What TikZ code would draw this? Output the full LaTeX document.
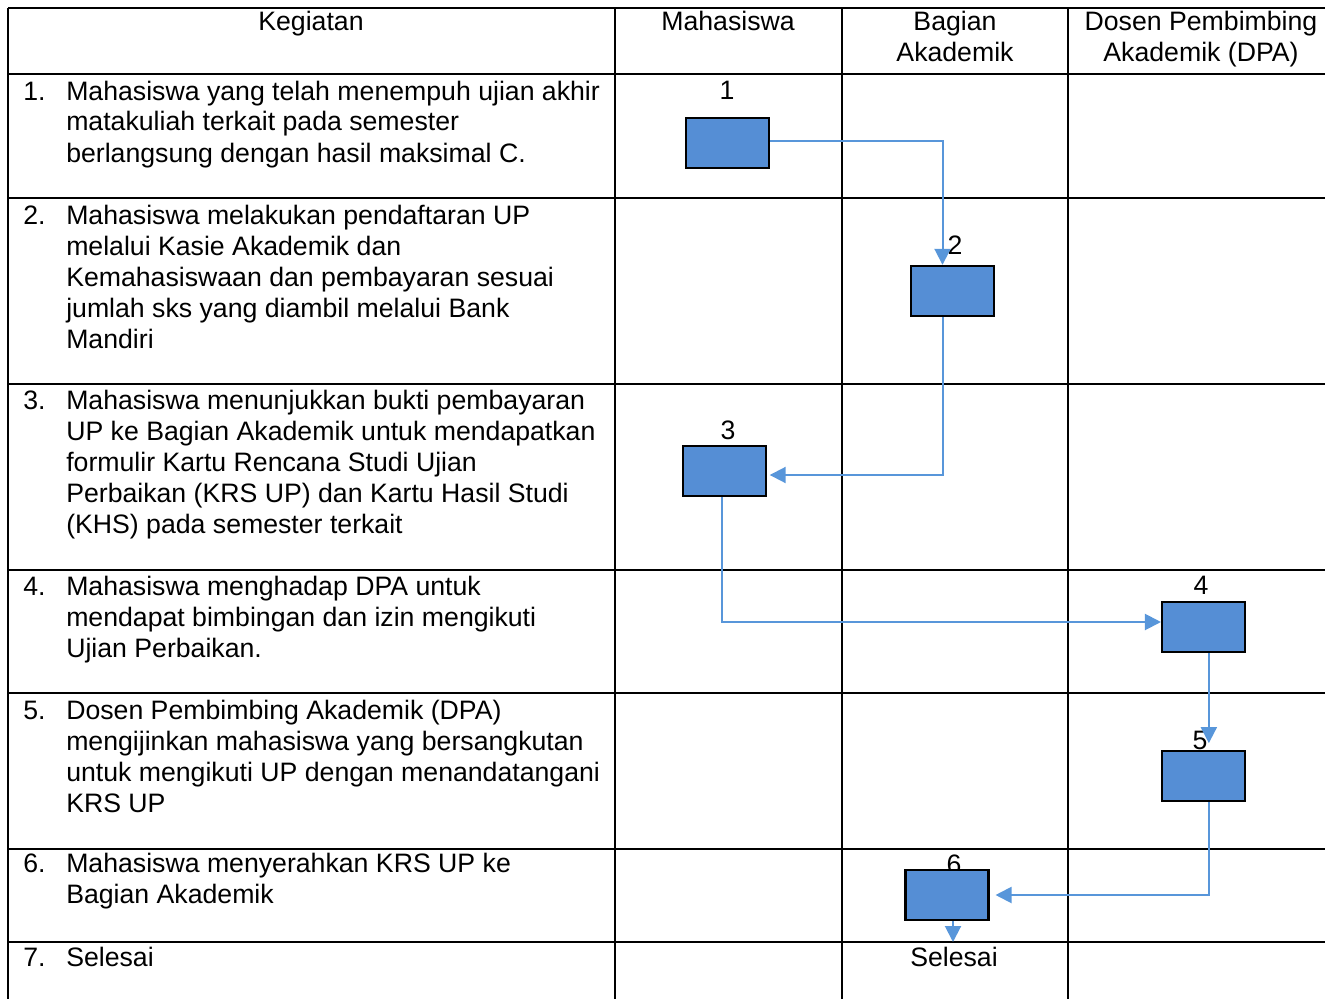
\documentclass[tikz,border=0pt]{standalone}
\usepackage{fontspec}
\setmainfont{Liberation Sans}
\usetikzlibrary{arrows.meta,calc}
\definecolor{boxblue}{RGB}{85,142,213}
\definecolor{flowblue}{RGB}{88,150,218}
\newcommand\kegiatan[3]{%
  \node[txt,anchor=base west] (no#1) at (23,#2) {#1.};
  \foreach \kline [count=\k] in {#3}
    \node[txt,anchor=base west] (keg#1-\k) at (66,{#2+31*(\k-1)}) {\kline};
}

\begin{document}
\begin{tikzpicture}[x=0.75pt,y=-0.75pt]
\tikzset{txt/.style={inner sep=0,font=\fontsize{20}{23.25}\selectfont},
  grid/.style={line width=1.9pt,draw=black},
  act/.style={draw=black,line width=1.8pt,fill=boxblue,inner sep=0,
    minimum width=62pt,minimum height=37.5pt},
  flow/.style={draw=flowblue,line width=1.5pt,-{Triangle[length=12pt,width=12pt]}}}
\useasboundingbox (0,0) rectangle (1325,999);

% table
\draw[grid] (8,8) -- (8,999);
\foreach \y in {8,74,198,384,570,693,849,942} \draw[grid] (8,\y) -- (1325,\y);
\foreach \x in {615,842,1068} \draw[grid] (\x,8) -- (\x,999);

% header
\node[txt,anchor=base] (hkeg) at (311,31) {Kegiatan};
\node[txt,anchor=base] (hmhs) at (728,31) {Mahasiswa};
\node[txt,anchor=base] (hbag1) at (955,31) {Bagian};
\node[txt,anchor=base] (hbag2) at (955,62) {Akademik};
\node[txt,anchor=base] (hdpa1) at (1201,31) {Dosen Pembimbing};
\node[txt,anchor=base] (hdpa2) at (1201,62) {Akademik (DPA)};

% activities
\kegiatan{1}{100}{Mahasiswa yang telah menempuh ujian akhir,
  matakuliah terkait pada semester,
  berlangsung dengan hasil maksimal C.}
\kegiatan{2}{224}{Mahasiswa melakukan pendaftaran UP,
  melalui Kasie Akademik dan,
  Kemahasiswaan dan pembayaran sesuai,
  jumlah sks yang diambil melalui Bank,
  Mandiri}
\kegiatan{3}{409}{Mahasiswa menunjukkan bukti pembayaran,
  UP ke Bagian Akademik untuk mendapatkan,
  formulir Kartu Rencana Studi Ujian,
  Perbaikan (KRS UP) dan Kartu Hasil Studi,
  (KHS) pada semester terkait}
\kegiatan{4}{595}{Mahasiswa menghadap DPA untuk,
  mendapat bimbingan dan izin mengikuti,
  Ujian Perbaikan.}
\kegiatan{5}{719}{Dosen Pembimbing Akademik (DPA),
  mengijinkan mahasiswa yang bersangkutan,
  untuk mengikuti UP dengan menandatangani,
  KRS UP}
\kegiatan{6}{872}{Mahasiswa menyerahkan KRS UP ke,
  Bagian Akademik}
\kegiatan{7}{966}{Selesai}

% step numbers
\node[txt,anchor=base] (l1) at (727,99) {1};
\node[txt,anchor=base] (l2) at (955,254) {2};
\node[txt,anchor=base] (l3) at (728,439) {3};
\node[txt,anchor=base] (l4) at (1201,594) {4};
\node[txt,anchor=base] (l5) at (1200,749) {5};
\node[txt,anchor=base] (l6) at (954,873) {6};
\node[txt,anchor=base] (fin) at (954,966) {Selesai};

% boxes
\node[act] (b1) at (727.5,143) {};
\node[act] (b2) at (952.5,291) {};
\node[act] (b3) at (724.5,471) {};
\node[act] (b4) at (1203.5,627) {};
\node[act] (b5) at (1203.5,776) {};
\node[act] (b6) at (947,895) {};
\coordinate (end) at (953,942);

% flow
\draw[flow] ([yshift=1.5pt]b1.east) -| ([xshift=-7.5pt]b2.north);
\draw[flow,shorten >=2pt] ([xshift=-7.5pt]b2.south) |- ([yshift=-3pt]b3.east);
\draw[flow] ([xshift=-2pt]b3.south) |- ([yshift=3.75pt]b4.west);
\draw[flow,shorten >=5pt] ([xshift=4pt]b4.south) -- ([xshift=4pt]b5.north);
\draw[flow,shorten >=4.5pt] ([xshift=4pt]b5.south) |- (b6.east);
\draw[flow] ([xshift=4.5pt]b6.south) -- (end);
\end{tikzpicture}
\end{document}
